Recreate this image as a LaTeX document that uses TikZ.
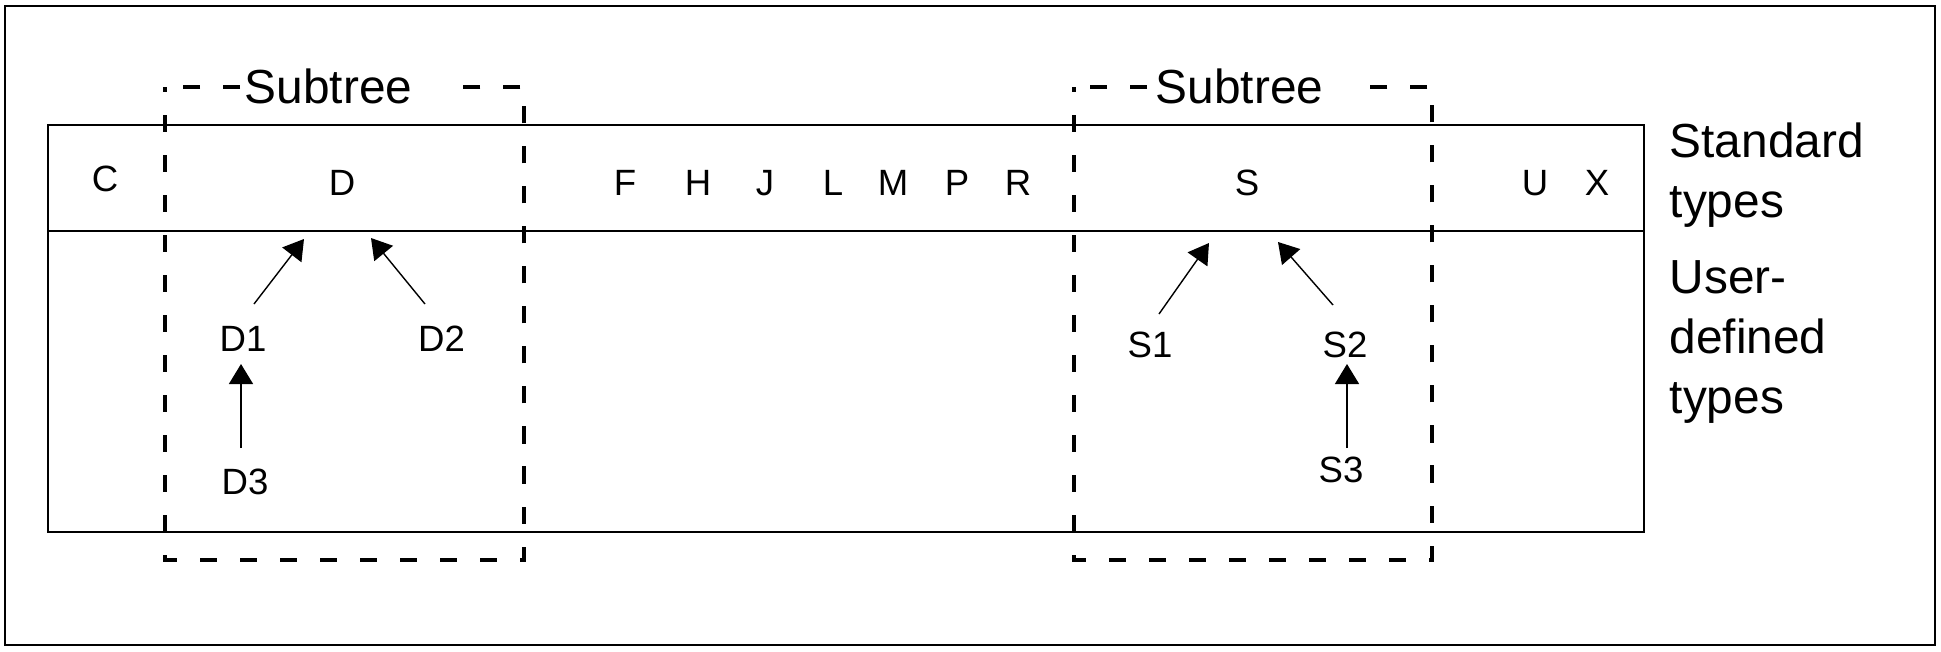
\documentclass[tikz,border=0pt]{standalone}
\usepackage{fontspec}
\setmainfont{Liberation Sans}
\usetikzlibrary{arrows.meta}
\begin{document}
\begin{tikzpicture}[x=0.01cm,y=-0.01cm,
  solidline/.style={draw=black,line width=0.57pt},
  subbox/.style={draw=black,line width=0.95pt,dash pattern=on 4.84pt off 6.54pt,dash phase=3.4pt},
  lbl/.style={font=\fontsize{10.4}{12.5}\selectfont,inner sep=0pt,anchor=base},
  big/.style={font=\fontsize{13.6}{17.07}\selectfont,inner sep=0pt,anchor=base west},
  subt/.style={font=\fontsize{13.6}{17.07}\selectfont,fill=white,inner xsep=0.02cm,inner ysep=2pt,text width=1.96cm,align=left,anchor=base west},
  arr/.style={-{Triangle[length=0.2cm,width=0.24cm]},line width=0.4pt}]
\fill[white] (0,0) rectangle (1941,651);
\useasboundingbox (0,0) rectangle (1941,651);
% outer frame
\draw[solidline] (5,6) rectangle (1935,645);
% table
\draw[solidline] (48,124.5) rectangle (1644,531.5);
\draw[solidline] (48,230.5) -- (1644,230.5);
% subtree boxes
\draw[subbox] (165,87) -- (165,560) -- (524,560) -- (524,87) -- cycle;
\draw[subbox] (1074,87) -- (1074,560) -- (1432,560) -- (1432,87) -- cycle;
\node[subt] (sub1) at (242,103) {Subtree};
\node[subt] (sub2) at (1153,103) {Subtree};
% standard types
\node[lbl] (C) at (105,191) {C};
\node[lbl] (D) at (342,195) {D};
\node[lbl] (F) at (625,195) {F};
\node[lbl] (H) at (698,195) {H};
\node[lbl] (J) at (765,195) {J};
\node[lbl] (L) at (833,195) {L};
\node[lbl] (M) at (893,195) {M};
\node[lbl] (P) at (957,195) {P};
\node[lbl] (R) at (1018,195) {R};
\node[lbl] (S) at (1247,195) {S};
\node[lbl] (U) at (1535,195) {U};
\node[lbl] (X) at (1597,195) {X};
% user-defined types
\node[lbl] (D1) at (243,351) {D1};
\node[lbl] (D2) at (441.5,351) {D2};
\node[lbl] (D3) at (245,494) {D3};
\node[lbl] (S1) at (1150,357) {S1};
\node[lbl] (S2) at (1345,357) {S2};
\node[lbl] (S3) at (1341,482) {S3};
% side labels
\node[big] (std) at (1669,157) {\vtop{\hbox{Standard}\hbox{types}}};
\node[big] (usr) at (1669,293) {\vtop{\hbox{User-}\hbox{defined}\hbox{types}}};
% arrow end points
\coordinate (d1s) at (254,304);
\coordinate (d1t) at (304,239);
\coordinate (d2s) at (425,304);
\coordinate (d2t) at (371,238);
\coordinate (d3s) at (241,448);
\coordinate (d3t) at (241,364);
\coordinate (s1s) at (1159,314);
\coordinate (s1t) at (1209,243);
\coordinate (s2s) at (1333,305);
\coordinate (s2t) at (1278,242);
\coordinate (s3s) at (1347,448);
\coordinate (s3t) at (1347,364);
\draw[arr] (d1s) -- (d1t);
\draw[arr] (d2s) -- (d2t);
\draw[arr] (d3s) -- (d3t);
\draw[arr] (s1s) -- (s1t);
\draw[arr] (s2s) -- (s2t);
\draw[arr] (s3s) -- (s3t);
\end{tikzpicture}
\end{document}
